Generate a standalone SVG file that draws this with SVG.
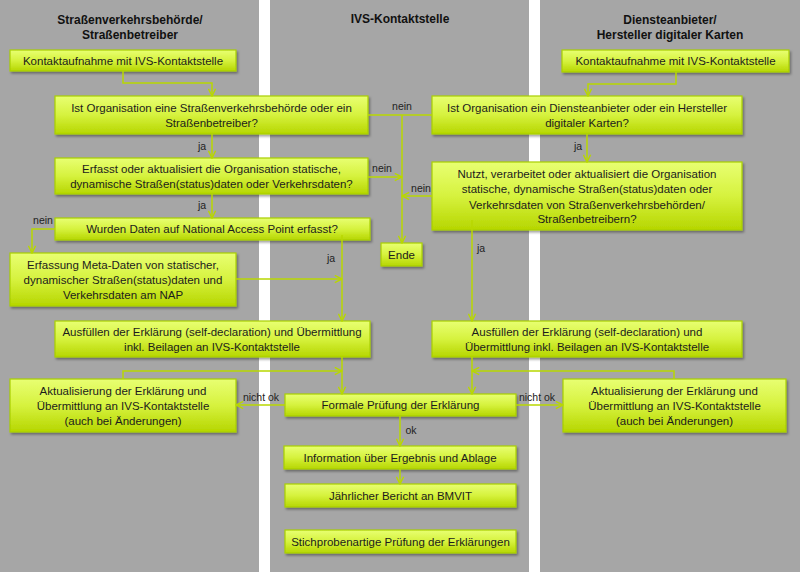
<svg xmlns="http://www.w3.org/2000/svg" width="800" height="572" viewBox="0 0 800 572">
<defs>
<linearGradient id="g" x1="0" y1="0" x2="0" y2="1">
<stop offset="0" stop-color="#E8FF72"/>
<stop offset="0.5" stop-color="#D6F23E"/>
<stop offset="1" stop-color="#B6D600"/>
</linearGradient>
<filter id="sh" x="-10%" y="-20%" width="120%" height="150%">
<feDropShadow dx="1.5" dy="2" stdDeviation="1.2" flood-color="#000" flood-opacity="0.35"/>
</filter>
<marker id="a" viewBox="0 0 10 10" refX="9" refY="5" markerWidth="9" markerHeight="9" markerUnits="userSpaceOnUse" orient="auto">
<path d="M1,1 L9,5 L1,9" fill="none" stroke="#B8D700" stroke-width="1.6"/>
</marker>
<style>
.bx{fill:url(#g);stroke:#A9CF00;stroke-width:1.2;filter:url(#sh)}
.t{font-family:"Liberation Sans",Arial,sans-serif;font-size:11.5px;fill:#1c1c1c;text-anchor:middle}
.h{font-family:"Liberation Sans",Arial,sans-serif;font-size:12px;font-weight:bold;fill:#111;text-anchor:middle}
.l{font-family:"Liberation Sans",Arial,sans-serif;font-size:10.5px;fill:#222;text-anchor:middle}
.c{fill:none;stroke:#B8D700;stroke-width:1.5}
.c.ar{marker-end:url(#a)}
</style>
</defs>
<rect x="0" y="0" width="800" height="572" fill="#A6A6A6"/>
<rect x="259" y="0" width="11" height="572" fill="#FFFFFF"/>
<rect x="529" y="0" width="11" height="572" fill="#FFFFFF"/>

<g id="headers">
<text class="h" x="130" y="24">Straßenverkehrsbehörde/</text>
<text class="h" x="130" y="39">Straßenbetreiber</text>
<text class="h" x="400" y="23">IVS-Kontaktstelle</text>
<text class="h" x="670" y="24">Diensteanbieter/</text>
<text class="h" x="670" y="39">Hersteller digitaler Karten</text>
</g>

<g id="n_l1"><rect class="bx" x="10" y="50" width="226" height="21"/><text class="t" x="123" y="64.5">Kontaktaufnahme mit IVS-Kontaktstelle</text></g>
<g id="n_r1"><rect class="bx" x="562" y="50" width="227" height="22"/><text class="t" x="675.5" y="65">Kontaktaufnahme mit IVS-Kontaktstelle</text></g>
<g id="n_l2"><rect class="bx" x="55" y="96" width="313" height="38"/><text class="t" x="211.5" y="112">Ist Organisation eine Straßenverkehrsbehörde oder ein</text><text class="t" x="211.5" y="127">Straßenbetreiber?</text></g>
<g id="n_r2"><rect class="bx" x="432" y="96" width="310" height="38"/><text class="t" x="587" y="112">Ist Organisation ein Diensteanbieter oder ein Hersteller</text><text class="t" x="587" y="127">digitaler Karten?</text></g>
<g id="n_l3"><rect class="bx" x="55" y="158" width="313" height="36"/><text class="t" x="211.5" y="173">Erfasst oder aktualisiert die Organisation statische,</text><text class="t" x="211.5" y="188">dynamische Straßen(status)daten oder Verkehrsdaten?</text></g>
<g id="n_r3"><rect class="bx" x="432" y="162" width="310" height="68"/><text class="t" x="587" y="178">Nutzt, verarbeitet oder aktualisiert die Organisation</text><text class="t" x="587" y="193">statische, dynamische Straßen(status)daten oder</text><text class="t" x="587" y="208.5">Verkehrsdaten von Straßenverkehrsbehörden/</text><text class="t" x="587" y="223">Straßenbetreibern?</text></g>
<g id="n_l4"><rect class="bx" x="55" y="218" width="315" height="22"/><text class="t" x="212" y="233">Wurden Daten auf National Access Point erfasst?</text></g>
<g id="n_ende"><rect class="bx" x="381" y="243" width="41" height="23"/><text class="t" x="401.5" y="258.5">Ende</text></g>
<g id="n_l5"><rect class="bx" x="10" y="253" width="226" height="53"/><text class="t" x="123" y="268.5">Erfassung Meta-Daten von statischer,</text><text class="t" x="123" y="283.5">dynamischer Straßen(status)daten und</text><text class="t" x="123" y="298.5">Verkehrsdaten am NAP</text></g>
<g id="n_l6"><rect class="bx" x="55" y="321" width="315" height="36"/><text class="t" x="212" y="336">Ausfüllen der Erklärung (self-declaration) und Übermittlung</text><text class="t" x="212" y="351">inkl. Beilagen an IVS-Kontaktstelle</text></g>
<g id="n_r6"><rect class="bx" x="432" y="321" width="310" height="36"/><text class="t" x="587" y="336">Ausfüllen der Erklärung (self-declaration) und</text><text class="t" x="587" y="351">Übermittlung inkl. Beilagen an IVS-Kontaktstelle</text></g>
<g id="n_l7"><rect class="bx" x="10" y="379" width="226" height="53"/><text class="t" x="123" y="395">Aktualisierung der Erklärung und</text><text class="t" x="123" y="410">Übermittlung an IVS-Kontaktstelle</text><text class="t" x="123" y="424.5">(auch bei Änderungen)</text></g>
<g id="n_r7"><rect class="bx" x="563" y="379" width="223" height="53"/><text class="t" x="674.5" y="395">Aktualisierung der Erklärung und</text><text class="t" x="674.5" y="410">Übermittlung an IVS-Kontaktstelle</text><text class="t" x="674.5" y="424.5">(auch bei Änderungen)</text></g>
<g id="n_m1"><rect class="bx" x="285" y="394" width="231" height="22"/><text class="t" x="400.5" y="409">Formale Prüfung der Erklärung</text></g>
<g id="n_m2"><rect class="bx" x="284" y="446" width="232" height="23"/><text class="t" x="400" y="461.5">Information über Ergebnis und Ablage</text></g>
<g id="n_m3"><rect class="bx" x="285" y="484" width="231" height="23"/><text class="t" x="400.5" y="499.5">Jährlicher Bericht an BMVIT</text></g>
<g id="n_m4"><rect class="bx" x="285" y="530" width="231" height="23"/><text class="t" x="400.5" y="545.5">Stichprobenartige Prüfung der Erklärungen</text></g>

<g id="connectors">
<path class="c ar" d="M123,71 V83 H212 V96"/>
<path class="c ar" d="M676,72 V84 H588 V96"/>
<path class="c" d="M368,115 H432"/>
<path class="c ar" d="M402,115 V243"/>
<path class="c ar" d="M212,134 V158"/>
<path class="c ar" d="M368,177 H402"/>
<path class="c ar" d="M432,196 H402"/>
<path class="c ar" d="M587,134 V162"/>
<path class="c ar" d="M212,194 V218"/>
<path class="c ar" d="M55,229 H32 V253"/>
<path class="c ar" d="M342,235 V321"/>
<path class="c ar" d="M236,279 H342"/>
<path class="c ar" d="M342,357 V394"/>
<path class="c ar" d="M123,379 V371 H342"/>
<path class="c ar" d="M285,405 H236"/>
<path class="c ar" d="M472,220 V321"/>
<path class="c ar" d="M472,357 V394"/>
<path class="c ar" d="M674,379 V371 H472"/>
<path class="c ar" d="M516,405 H563"/>
<path class="c ar" d="M400,416 V446"/>
<path class="c ar" d="M400,469 V484"/>
<text class="l" x="402" y="110">nein</text>
<text class="l" x="202" y="150">ja</text>
<text class="l" x="382" y="172">nein</text>
<text class="l" x="421" y="192">nein</text>
<text class="l" x="578" y="150">ja</text>
<text class="l" x="202" y="209">ja</text>
<text class="l" x="43" y="224">nein</text>
<text class="l" x="331" y="262">ja</text>
<text class="l" x="481" y="252">ja</text>
<text class="l" x="261" y="401">nicht ok</text>
<text class="l" x="537" y="401">nicht ok</text>
<text class="l" x="411" y="434">ok</text>
</g>
</svg>
